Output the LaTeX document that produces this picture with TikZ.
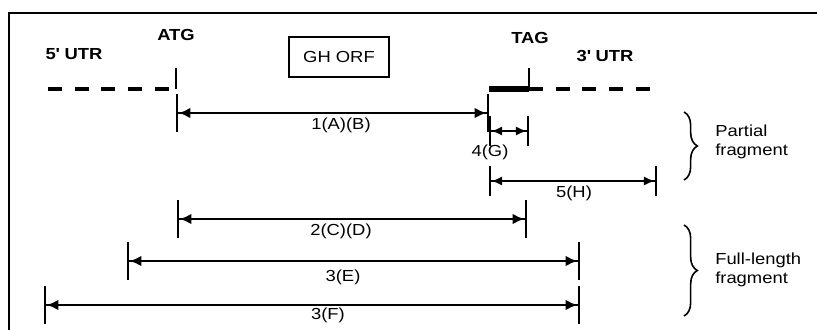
\documentclass[tikz,border=0pt]{standalone}
\usepackage{fontspec}
\setmainfont{Liberation Sans}[FakeStretch=1.15]
\usetikzlibrary{arrows.meta,decorations.pathreplacing}
\begin{document}
\begin{tikzpicture}[x=0.75pt,y=0.75pt]
            \tikzstyle{every node}+=[inner sep=0pt, font=\fontsize{12pt}{14pt}\selectfont]
            \tikzstyle{dim}=[line width=1.8pt, {Bar[width=28pt]Latex[length=9pt,width=8pt]}-{Latex[length=9pt,width=8pt]Bar[width=28pt]}]
            \tikzstyle{dimshort}=[line width=1.8pt, {Bar[width=22pt]Latex[length=8pt,width=7pt]}-{Latex[length=8pt,width=7pt]Bar[width=22pt]}]
            \tikzstyle{utr}=[line width=2.5pt, dash pattern=on 10.5pt off 9.5pt]
            \tikzstyle{gene}=[font=\bfseries\fontsize{12pt}{14pt}\selectfont]
            \useasboundingbox (0,0) rectangle (817,-329);
                % frame
                \draw [line width=2pt] (817,-13) -- (9,-13) -- (9,-335);
                % gene
                \coordinate (utr5) at (48,-89);
                \coordinate (atg) at (176,-89);
                \coordinate (atgtop) at (176,-68);
                \coordinate (orfend) at (489,-89);
                \coordinate (tag) at (529,-89);
                \coordinate (tagtop) at (529,-68);
                \coordinate (utr3) at (657,-89);
                \draw [utr] (utr5) -- (atg);
                \draw [line width=2pt] (atg) -- (atgtop);
                \draw [line width=5pt] (orfend) -- (tag);
                \draw [line width=2pt] (tag) -- (tagtop);
                \draw [utr] (tag) -- (utr3);
                \draw (74,-54) node[gene] (l5utr) {5\textquotesingle\ UTR};
                \draw (176,-35) node[gene] (latg) {ATG};
                \draw (530,-38) node[gene] (ltag) {TAG};
                \draw (605,-56) node[gene] (l3utr) {3\textquotesingle\ UTR};
                \draw (339,-57) node[draw, line width=1.5pt, minimum width=75pt, minimum height=30pt] (orf) {GH ORF};
                % fragments
                \coordinate (a1) at (176,-113);
                \coordinate (b1) at (489,-113);
                \coordinate (a4) at (489,-131);
                \coordinate (b4) at (529,-131);
                \coordinate (a5) at (489,-181);
                \coordinate (b5) at (657,-181);
                \coordinate (a2) at (177,-219);
                \coordinate (b2) at (527,-219);
                \coordinate (a3) at (127,-261);
                \coordinate (b3) at (580,-261);
                \coordinate (a6) at (44,-305);
                \coordinate (b6) at (580,-305);
                \draw [dim] (a1) -- (b1);
                \draw [dimshort] (a4) -- (b4);
                \draw [dimshort] (a5) -- (b5);
                \draw [dim] (a2) -- (b2);
                \draw [dim] (a3) -- (b3);
                \draw [dim] (a6) -- (b6);
                \draw (341,-125) node (l1) {1(A)(B)};
                \draw (490,-152) node (l4) {4(G)};
                \draw (574,-193) node (l5) {5(H)};
                \draw (341,-231) node (l2) {2(C)(D)};
                \draw (343,-277) node (l3) {3(E)};
                \draw (328,-315) node (l6) {3(F)};
                % braces
                \coordinate (pb1) at (684,-112);
                \coordinate (pb2) at (684,-180);
                \coordinate (fb1) at (684,-225);
                \coordinate (fb2) at (684,-316);
                \draw [line width=1.2pt, decorate, decoration={brace, amplitude=10pt}] (pb1) -- (pb2);
                \draw [line width=1.2pt, decorate, decoration={brace, amplitude=10pt}] (fb1) -- (fb2);
                \draw (715,-142) node[anchor=west, align=left] (lpart) {Partial\\fragment};
                \draw (715,-270) node[anchor=west, align=left] (lfull) {Full-length\\fragment};
            \end{tikzpicture}
\end{document}
